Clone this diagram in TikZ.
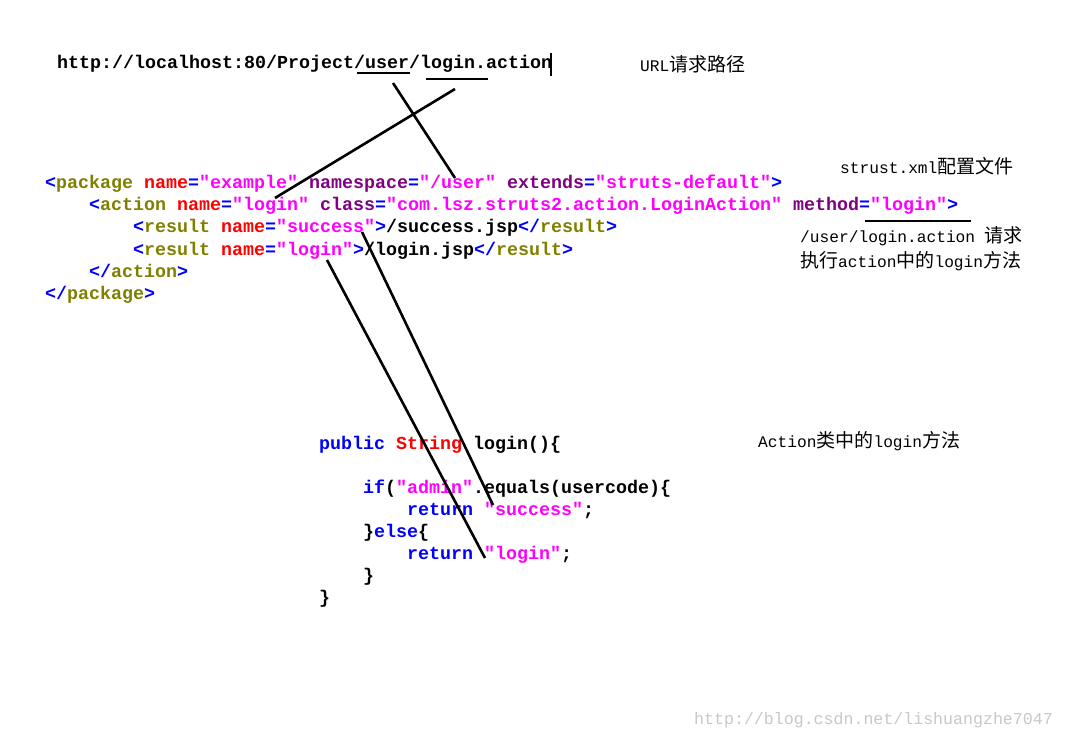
\documentclass[tikz,border=0pt]{standalone}
\usepackage{fontspec}
\setmonofont{Liberation Mono}
\newfontfamily\cjk{Noto Sans CJK SC}
\definecolor{xb}{RGB}{0,0,255}
\definecolor{xo}{RGB}{128,128,0}
\definecolor{xr}{RGB}{255,0,0}
\definecolor{xm}{RGB}{255,0,255}
\definecolor{xp}{RGB}{128,0,128}
\definecolor{wm}{RGB}{200,200,200}
\newcommand\cB[1]{\textcolor{xb}{#1}}
\newcommand\cO[1]{\textcolor{xo}{#1}}
\newcommand\cR[1]{\textcolor{xr}{#1}}
\newcommand\cM[1]{\textcolor{xm}{#1}}
\newcommand\cP[1]{\textcolor{xp}{#1}}
\newcommand\zh[1]{{\cjk\fontsize{19}{22}\selectfont #1}}
\begin{document}
\begin{tikzpicture}[x=1pt,y=-1pt,
  code/.style={anchor=base west, inner sep=0pt, font=\ttfamily\bfseries\fontsize{18.33}{22}\selectfont},
  lbl/.style={anchor=base west, inner sep=0pt, font=\ttfamily\fontsize{16.2}{20}\selectfont},
  link/.style={line width=2.6pt, black},
  ulin/.style={line width=2.4pt, black}]
\fill[white] (0,0) rectangle (1065,738);
\useasboundingbox (0,0) rectangle (1065,738);

% URL
\node[code] (url) at (57,69) {http://localhost:80/Project/user/login.action};
\node[lbl] (urllbl) at (640,72) {URL\zh{请求路径}};

% XML
\node[code] (x1) at (45,189) {\cB{<}\cO{package} \cR{name}\cB{=}\cM{"example"} \cP{namespace}\cB{=}\cM{"/user"} \cP{extends}\cB{=}\cM{"struts-default"}\cB{>}};
\node[code] (x2) at (89,211) {\cB{<}\cO{action} \cR{name}\cB{=}\cM{"login"} \cP{class}\cB{=}\cM{"com.lsz.struts2.action.LoginAction"} \cP{method}\cB{=}\cM{"login"}\cB{>}};
\node[code] (x3) at (133,233) {\cB{<}\cO{result} \cR{name}\cB{=}\cM{"success"}\cB{>}/success.jsp\cB{</}\cO{result}\cB{>}};
\node[code] (x4) at (133,255) {\cB{<}\cO{result} \cR{name}\cB{=}\cM{"login"}\cB{>}/login.jsp\cB{</}\cO{result}\cB{>}};
\node[code] (x5) at (89,277) {\cB{</}\cO{action}\cB{>}};
\node[code] (x6) at (45,299) {\cB{</}\cO{package}\cB{>}};

\node[lbl] (xmllbl) at (840,174) {strust.xml\zh{配置文件}};
\node[lbl] (req1) at (800,242) {/user/login.action \zh{请求}};
\node[lbl] (req2) at (800,267) {\zh{执行}action\zh{中的}login\zh{方法}};

% Java
\node[code] (j1) at (319,449) {\cB{public} \cR{String} login()\{};
\node[code] (j2) at (363,493) {\cB{if}(\cM{"admin"}.equals(usercode)\{};
\node[code] (j3) at (407,515) {\cB{return} \cM{"success"};};
\node[code] (j4) at (363,537) {\}\cB{else}\{};
\node[code] (j5) at (407,559) {\cB{return} \cM{"login"};};
\node[code] (j6) at (363,581) {\}};
\node[code] (j7) at (319,603) {\}};
\node[lbl] (javalbl) at (758,447) {Action\zh{类中的}login\zh{方法}};

% watermark
\node[anchor=base west, inner sep=0pt, font=\ttfamily\fontsize{16.6}{20}\selectfont, text=wm] (wmk) at (694,724) {http://blog.csdn.net/lishuangzhe7047};

% underlines and cursor
\coordinate (u1a) at (357,73); \coordinate (u1b) at (410,73);
\coordinate (u2a) at (426,79); \coordinate (u2b) at (488,79);
\coordinate (cura) at (551,53); \coordinate (curb) at (551,76);
\coordinate (u3a) at (865,221); \coordinate (u3b) at (971,221);
\draw[ulin] (u1a) -- (u1b);
\draw[ulin] (u2a) -- (u2b);
\draw[line width=1.5pt] (cura) -- (curb);
\draw[ulin] (u3a) -- (u3b);

% connectors
\coordinate (la) at (455,89);  \coordinate (lb) at (275,198);
\coordinate (ma) at (393,83);  \coordinate (mb) at (455,178);
\coordinate (sa) at (362,232); \coordinate (sb) at (493,505);
\coordinate (ga) at (327,260); \coordinate (gb) at (485,558);
\draw[link] (la) -- (lb);
\draw[link] (ma) -- (mb);
\draw[link] (sa) -- (sb);
\draw[link] (ga) -- (gb);
\end{tikzpicture}
\end{document}
